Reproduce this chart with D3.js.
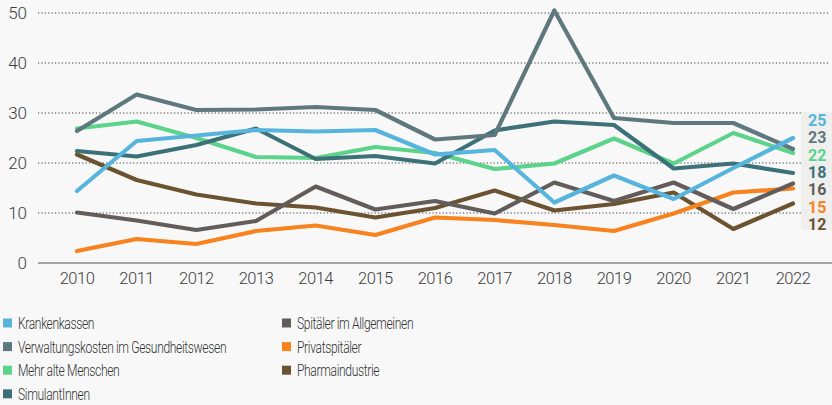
<!DOCTYPE html>
<html>
<head>
<meta charset="utf-8">
<script src="https://cdn.jsdelivr.net/npm/d3@7"></script>
<style>
  html, body { margin: 0; padding: 0; background: #f8f8f8; }
  svg { display: block; font-family: Roboto, "Liberation Sans", sans-serif; }
</style>
</head>
<body>
<div id="chart"></div>
<script>
// Daten
const years = [2010, 2011, 2012, 2013, 2014, 2015, 2016, 2017, 2018, 2019, 2020, 2021, 2022];
const yTicks = [0, 10, 20, 30, 40, 50];

const seriesNames = [
  "Krankenkassen",
  "Verwaltungskosten im Gesundheitswesen",
  "Mehr alte Menschen",
  "SimulantInnen",
  "Spitäler im Allgemeinen",
  "Privatspitäler",
  "Pharmaindustrie"
];
const seriesColors = ["#56b4dd", "#5f787e", "#5bd38a", "#3c7179", "#625c5a", "#f7821e", "#6b5330"];

const krankenkassen = [14.4, 24.4, 25.5, 26.6, 26.3, 26.6, 21.7, 22.6, 12.1, 17.5, 12.8, 19.0, 25.0];
const verwaltung    = [26.4, 33.7, 30.6, 30.7, 31.2, 30.6, 24.7, 25.6, 50.5, 29.0, 28.0, 28.0, 22.8];
const alteMenschen  = [26.9, 28.3, 25.0, 21.2, 21.0, 23.2, 22.0, 18.8, 19.9, 24.9, 19.9, 26.0, 22.0];
const simulanten    = [22.4, 21.3, 23.6, 26.9, 20.8, 21.4, 19.9, 26.5, 28.3, 27.6, 18.9, 19.9, 18.0];
const spitaeler     = [10.1, 8.5, 6.6, 8.4, 15.3, 10.7, 12.4, 9.9, 16.1, 12.4, 16.1, 10.8, 15.9];
const privat        = [2.4, 4.8, 3.8, 6.4, 7.5, 5.6, 9.1, 8.6, 7.6, 6.4, 9.9, 14.1, 14.9];
const pharma        = [21.7, 16.6, 13.7, 11.9, 11.1, 9.1, 11.0, 14.5, 10.5, 11.8, 14.1, 6.8, 11.9];

const seriesValues = [krankenkassen, verwaltung, alteMenschen, simulanten, spitaeler, privat, pharma];

// Endwerte rechts (Reihenfolge von oben nach unten)
const endLabels = [
  { text: "25", series: 0 },
  { text: "23", series: 1 },
  { text: "22", series: 2 },
  { text: "18", series: 3 },
  { text: "16", series: 4 },
  { text: "15", series: 5 },
  { text: "12", series: 6 }
];

const width = 832, height = 405;

const svg = d3.select("#chart")
  .append("svg")
  .attr("width", width)
  .attr("height", height);

svg.append("rect")
  .attr("width", width).attr("height", height)
  .attr("fill", "#f8f8f8");

// Skalen
const x = d3.scalePoint()
  .domain(years)
  .range([77, 793]);

const y = d3.scaleLinear()
  .domain([0, 50])
  .range([263, 13]);

// Gitterlinien (gepunktet)
svg.append("g")
  .selectAll("line")
  .data(yTicks.filter(d => d > 0))
  .enter()
  .append("line")
  .attr("x1", 38).attr("x2", 829)
  .attr("y1", d => y(d)).attr("y2", d => y(d))
  .attr("stroke", "#3a3a3a")
  .attr("stroke-width", 1.1)
  .attr("stroke-dasharray", "1.2,2.2");

// Box hinter den Endwerten
svg.append("rect")
  .attr("x", 801).attr("y", 112)
  .attr("width", 31).attr("height", 118)
  .attr("fill", "#efefee");

// Grundlinie
svg.append("line")
  .attr("x1", 38).attr("x2", width)
  .attr("y1", y(0)).attr("y2", y(0))
  .attr("stroke", "#8a8a8a")
  .attr("stroke-width", 1.3);

// Y-Achse
svg.append("g")
  .selectAll("text")
  .data(yTicks)
  .enter()
  .append("text")
  .attr("x", 27)
  .attr("y", d => y(d))
  .attr("dy", "0.36em")
  .attr("text-anchor", "end")
  .attr("font-size", 17)
  .attr("font-weight", 300)
  .attr("fill", "#3d3d3d")
  .text(d => d);

// X-Achse
svg.append("g")
  .selectAll("text")
  .data(years)
  .enter()
  .append("text")
  .attr("x", d => x(d))
  .attr("y", 278)
  .attr("dy", "0.36em")
  .attr("text-anchor", "middle")
  .attr("font-size", 16.5)
  .attr("font-weight", 300)
  .attr("letter-spacing", -0.5)
  .attr("fill", "#3d3d3d")
  .text(d => d);

// Linien
const line = d3.line()
  .x((d, i) => x(years[i]))
  .y(d => y(d));

// Zeichenreihenfolge: unten liegende zuerst
const drawOrder = [6, 5, 4, 2, 3, 1, 0];
svg.append("g")
  .selectAll("path")
  .data(drawOrder)
  .enter()
  .append("path")
  .attr("d", i => line(seriesValues[i]))
  .attr("fill", "none")
  .attr("stroke", i => seriesColors[i])
  .attr("stroke-width", 4.2)
  .attr("stroke-linejoin", "round")
  .attr("stroke-linecap", "round");

// Endwerte
svg.append("g")
  .selectAll("text")
  .data(endLabels)
  .enter()
  .append("text")
  .attr("x", 808)
  .attr("y", (d, i) => 120 + i * 17.4)
  .attr("dy", "0.36em")
  .attr("font-size", 16)
  .attr("font-weight", 700)
  .attr("fill", d => seriesColors[d.series])
  .text(d => d.text);

// Legende
const legendItems = seriesNames.map((name, i) => ({
  name,
  color: seriesColors[i],
  col: i < 4 ? 0 : 1,
  row: i < 4 ? i : i - 4
}));

const legend = svg.append("g")
  .selectAll("g")
  .data(legendItems)
  .enter()
  .append("g")
  .attr("transform", d => `translate(${d.col === 0 ? 3 : 282},${323 + d.row * 23.6})`);

legend.append("rect")
  .attr("x", 0).attr("y", -4.5)
  .attr("width", 9).attr("height", 9)
  .attr("fill", d => d.color);

// schmale Schrift nachbilden: horizontal gestaucht
legend.append("text")
  .attr("transform", "translate(15,0) scale(0.72,1)")
  .attr("dy", "0.36em")
  .attr("font-size", 16.8)
  .attr("font-weight", 300)
  .attr("letter-spacing", -0.5)
  .attr("fill", "#333")
  .text(d => d.name);
</script>
</body>
</html>
